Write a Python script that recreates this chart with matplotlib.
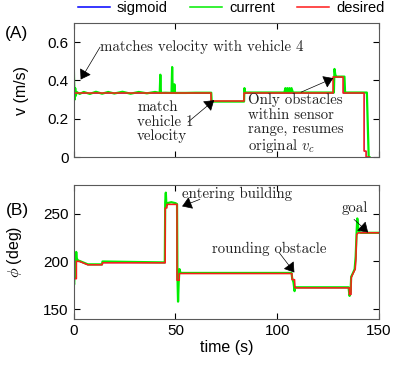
import numpy as np
import matplotlib
matplotlib.use('Agg')
import matplotlib.pyplot as plt

plt.rcParams['font.family'] = ['Liberation Sans', 'DejaVu Sans']
plt.rcParams['mathtext.fontset'] = 'cm'

# ---- (A) velocity ----
t_des_v = [0, 67.6, 67.6, 83.7, 83.7, 127.5, 127.5, 132.1, 132.1, 142.8, 142.8, 143.6, 143.6, 145.2]
v_des = [0.335, 0.335, 0.292, 0.292, 0.337, 0.337, 0.419, 0.419, 0.337, 0.337, 0.03, 0.03, 0.0, 0.0]

t_cur_v = [0, 0.2, 0.5, 0.8, 1.1, 1.5, 3, 5, 8, 11, 14, 17, 20, 24, 28, 32, 36, 40,
           42.3, 42.6, 42.9, 45, 48.1, 48.4, 48.7, 49.3, 49.5, 49.8, 55, 60, 67.6, 67.8,
           75, 83.7, 83.9, 84.2, 84.6, 95, 103.5, 104, 104.5, 105, 105.5, 106, 106.5, 107, 107.7,
           115, 127.8, 128.1, 128.5, 129, 130, 133.0, 133.3, 138, 144.0, 144.9, 145.3]
v_cur = [0.60, 0.42, 0.30, 0.36, 0.32, 0.34, 0.330, 0.340, 0.330, 0.341, 0.331, 0.340, 0.332, 0.341, 0.331, 0.340, 0.333, 0.340,
         0.335, 0.43, 0.335, 0.336, 0.335, 0.47, 0.335, 0.336, 0.38, 0.335, 0.335, 0.336, 0.336, 0.29,
         0.29, 0.29, 0.36, 0.337, 0.337, 0.337, 0.337, 0.36, 0.337, 0.36, 0.337, 0.36, 0.337, 0.36, 0.337,
         0.337, 0.337, 0.46, 0.43, 0.42, 0.42, 0.42, 0.337, 0.337, 0.337, 0.0, 0.0]

# ---- (B) heading ----
t_des_h = [0.6, 1.4, 1.4, 3, 7, 14, 14.2, 45, 45, 45.8, 45.8, 50.8, 50.8, 51.9, 51.9,
           107.2, 107.3, 108.5, 108.7, 135.4, 135.4, 136.2, 136.3, 137, 137.8, 138.3,
           138.6, 139, 139.8, 150]
h_des = [182, 182, 200.3, 200, 196.5, 196.5, 198.6, 198.6, 256, 256, 259.7, 259.7, 180.4, 180.4, 187.4,
         187.4, 181, 181, 172.4, 172.4, 165.5, 165.5, 183, 186.4, 190, 192,
         202, 228.3, 230, 230]

t_cur_h = [0, 0.3, 0.5, 0.8, 1.0, 1.3, 1.6, 2.2, 3, 7, 14, 14.2, 44.8, 45, 45.3, 45.6, 46, 48, 50, 50.8,
           51, 51.3, 51.6, 52, 52.5, 107, 107.3, 108, 108.5, 108.8, 135, 135.5, 136, 136.3, 137.2,
           138, 138.5, 139, 139.3, 139.7, 140.2, 141, 150]
h_cur = [178, 176, 190, 184, 200, 210, 203, 201, 200.5, 197, 197, 200, 199, 262, 272, 258, 261, 262, 261, 260,
         185, 158, 178, 192, 188, 188, 183, 178, 169, 173, 173, 164, 168, 184, 188,
         192, 205, 232, 245, 236, 231, 230, 230]

fig = plt.figure(figsize=(4.02, 3.76), dpi=100)
ax1 = fig.add_axes([0.183, 0.582, 0.760, 0.357])
ax2 = fig.add_axes([0.183, 0.152, 0.760, 0.356])

for ax in (ax1, ax2):
    ax.tick_params(direction='in', top=True, right=True, length=4, labelsize=11, width=0.8)
    for s in ax.spines.values():
        s.set_color('0.35')
    ax.set_xlim(0, 150)
    ax.set_xticks([0, 50, 100, 150])

ax1.plot(t_des_v, v_des, color='#0000ff', lw=0.5, label='sigmoid')
ax1.plot(t_cur_v, v_cur, color='#00ee00', lw=1.6, label='current')
ax1.plot(t_des_v, v_des, color='#ff1a1a', lw=1.1, label='desired')
ax1.set_ylim(0, 0.7)
ax1.set_yticks([0, 0.2, 0.4, 0.6])
ax1.set_yticklabels(['0', '0.2', '0.4', '0.6'])
ax1.set_xticklabels([])
ax1.set_ylabel('v (m/s)', fontsize=11.5)
ax1.yaxis.set_label_coords(-0.147, 0.5)

ax2.plot(t_des_h, h_des, color='#0000ff', lw=0.5)
ax2.plot(t_cur_h, h_cur, color='#00ee00', lw=1.6)
ax2.plot(t_des_h, h_des, color='#ff1a1a', lw=1.1)
ax2.set_ylim(140, 280)
ax2.set_yticks([150, 200, 250])
ax2.set_ylabel(r'$\phi$ (deg)', fontsize=11.5)
ax2.yaxis.set_label_coords(-0.162, 0.5)
ax2.set_xlabel('time (s)', fontsize=11.5, labelpad=2)

arr = dict(arrowstyle='-|>,head_length=0.6,head_width=0.4', color='black', lw=0.5,
           shrinkA=0, shrinkB=0, mutation_scale=10)
serif = dict(fontname='cmr10', fontsize=10.7, color='#222222')

ax1.annotate('', xy=(3.5, 0.405), xytext=(13, 0.574), arrowprops=arr)
ax1.text(13.2, 0.575, 'matches velocity with vehicle 4', va='center', **serif)

ax1.annotate('', xy=(69, 0.297), xytext=(56.2, 0.183), arrowprops=arr)
ax1.text(31.2, 0.297, 'match\nvehicle 1\nvelocity', va='top', linespacing=1.08, **serif)

ax1.annotate('', xy=(127.5, 0.412), xytext=(111.7, 0.339), arrowprops=arr)
ax1.text(85.7, 0.334, 'Only obstacles\nwithin sensor\nrange, resumes\noriginal $v_c$',
         va='top', linespacing=1.05, **serif)

ax2.annotate('', xy=(53.3, 257.7), xytext=(62, 265), arrowprops=arr)
ax2.text(53.1, 270.2, 'entering building', va='center', **serif)

ax2.annotate('', xy=(108.4, 188.5), xytext=(100.9, 209.4), arrowprops=arr)
ax2.text(68.1, 213.6, 'rounding obstacle', va='center', **serif)

ax2.annotate('', xy=(144.6, 230.4), xytext=(137.7, 244), arrowprops=arr)
ax2.text(131.7, 256.3, 'goal', va='center', **serif)

fig.text(0.012, 0.912, '(A)', fontsize=12.5, va='center')
fig.text(0.015, 0.439, '(B)', fontsize=12.5, va='center')

h, l = ax1.get_legend_handles_labels()
leg = fig.legend(h, l, loc='center', bbox_to_anchor=(0.575, 0.979), ncol=3, frameon=False,
                 fontsize=10.5, handlelength=2.2, handletextpad=0.5, columnspacing=1.5,
                 borderpad=0, borderaxespad=0)
for line in leg.get_lines():
    line.set_linewidth(1.1)

fig.savefig('out.png', dpi=100)
